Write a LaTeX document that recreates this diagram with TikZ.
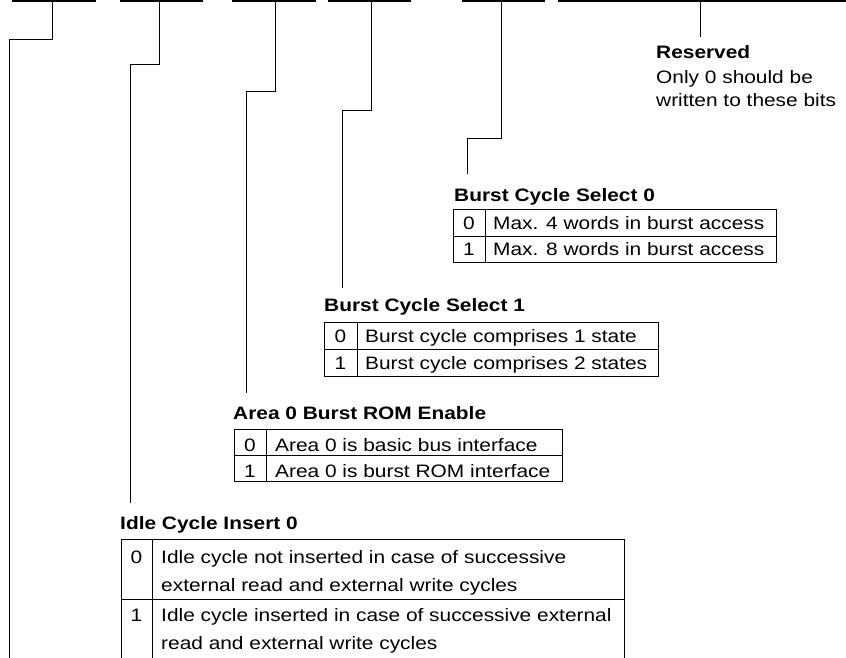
\documentclass[tikz,border=0pt]{standalone}
\usepackage{fontspec}
\setmainfont[FakeStretch=1.16]{Liberation Sans}
\begin{document}
\begin{tikzpicture}[x=1pt,y=-1pt,
  txt/.style={anchor=base west, inner sep=0pt, font=\fontsize{18}{24}\selectfont},
  ttl/.style={anchor=base west, inner sep=0pt, font=\fontsize{18}{24}\selectfont\bfseries},
  num/.style={anchor=base, inner sep=0pt, font=\fontsize{18}{24}\selectfont},
  bar/.style={line width=1.1pt},
  conn/.style={line width=0.9pt},
  tbl/.style={line width=0.8pt}]
\useasboundingbox (0,0) rectangle (846,657);
\clip (0,0) rectangle (846,657);

% bit field bars
\draw[bar] (12,1) -- (96,1);
\draw[bar] (120,1) -- (203,1);
\draw[bar] (232,1) -- (316,1);
\draw[bar] (328,1) -- (411,1);
\draw[bar] (462,1) -- (545,1);
\draw[bar] (558,1) -- (846,1);

\coordinate (b1) at (52,1);
\coordinate (b2) at (159,1);
\coordinate (b3) at (275,1);
\coordinate (b4) at (371,1);
\coordinate (b5) at (501,1);
\coordinate (b6) at (700,1);

\coordinate (k1) at (9,39);   \coordinate (e1) at (9,660);
\coordinate (k2) at (130,64); \coordinate (e2) at (130,503);
\coordinate (k3) at (246,91); \coordinate (e3) at (246,393);
\coordinate (k4) at (342,110);\coordinate (e4) at (342,288);
\coordinate (k5) at (467,138);\coordinate (e5) at (467,174);
\coordinate (e6) at (700,37);

\draw[conn] (b1) |- (k1) -- (e1);
\draw[conn] (b2) |- (k2) -- (e2);
\draw[conn] (b3) |- (k3) -- (e3);
\draw[conn] (b4) |- (k4) -- (e4);
\draw[conn] (b5) |- (k5) -- (e5);
\draw[conn] (b6) -- (e6);

% Reserved
\node[ttl] (res) at (656,58) {Reserved};
\node[txt] (res1) at (656,83) {Only 0 should be};
\node[txt] (res2) at (656,106) {written to these bits};

% Burst Cycle Select 0
\node[ttl] (bcs0) at (454,201) {Burst Cycle Select 0};
\draw[tbl] (453,209) rectangle (776,262);
\draw[tbl] (453,236) -- (776,236);
\draw[tbl] (485,209) -- (485,262);
\node[num] (bcs0a) at (469,229) {0};
\node[txt] (bcs0b) at (493,229) {Max. 4 words in burst access};
\node[num] (bcs0c) at (469,255) {1};
\node[txt] (bcs0d) at (493,255) {Max. 8 words in burst access};

% Burst Cycle Select 1
\node[ttl] (bcs1) at (324,311) {Burst Cycle Select 1};
\draw[tbl] (324,322) rectangle (658,376);
\draw[tbl] (324,349) -- (658,349);
\draw[tbl] (357,322) -- (357,376);
\node[num] (bcs1a) at (340.5,342) {0};
\node[txt] (bcs1b) at (365,342) {Burst cycle comprises 1 state};
\node[num] (bcs1c) at (340.5,369) {1};
\node[txt] (bcs1d) at (365,369) {Burst cycle comprises 2 states};

% Area 0 Burst ROM Enable
\node[ttl] (a0) at (233,419) {Area 0 Burst ROM Enable};
\draw[tbl] (234,429) rectangle (562,481);
\draw[tbl] (234,455) -- (562,455);
\draw[tbl] (266,429) -- (266,481);
\node[num] (a0a) at (250,451) {0};
\node[txt] (a0b) at (275,451) {Area 0 is basic bus interface};
\node[num] (a0c) at (250,477) {1};
\node[txt] (a0d) at (275,477) {Area 0 is burst ROM interface};

% Idle Cycle Insert 0
\node[ttl] (ic) at (120,529) {Idle Cycle Insert 0};
\draw[tbl] (121,539) rectangle (624,670);
\draw[tbl] (121,599) -- (624,599);
\draw[tbl] (152,539) -- (152,670);
\node[num] (ica) at (136.5,563) {0};
\node[txt] (icb1) at (161,563) {Idle cycle not inserted in case of successive};
\node[txt] (icb2) at (161,591) {external read and external write cycles};
\node[num] (icc) at (136.5,621) {1};
\node[txt] (icd1) at (161,621) {Idle cycle inserted in case of successive external};
\node[txt] (icd2) at (161,649) {read and external write cycles};
\end{tikzpicture}
\end{document}
